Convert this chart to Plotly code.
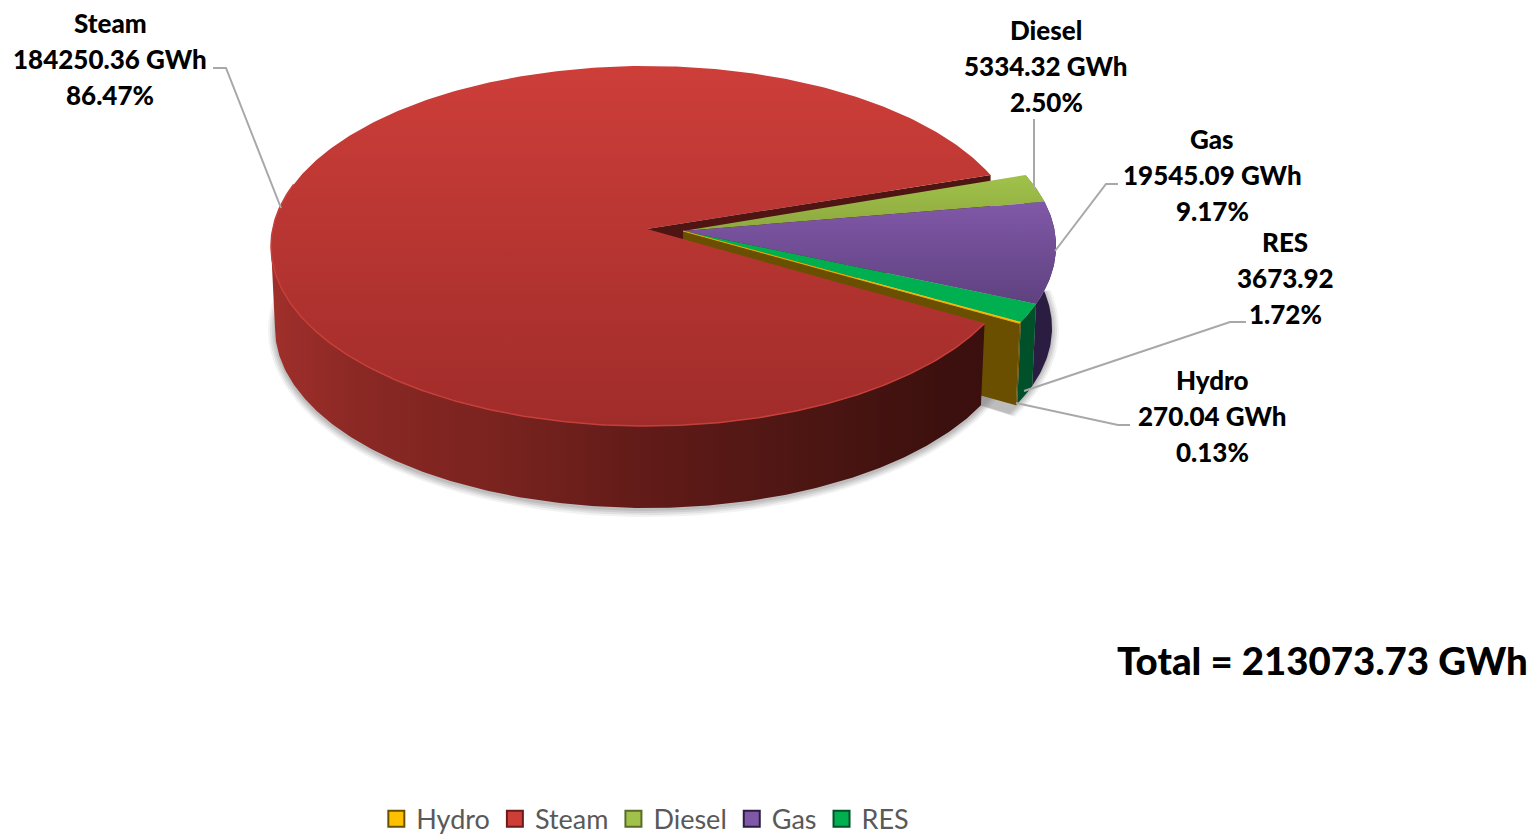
import math
import plotly.graph_objects as go

# ---- data ----
categories = ["Hydro", "Steam", "Diesel", "Gas", "RES"]
values_gwh = [270.04, 184250.36, 5334.32, 19545.09, 3673.92]
percent_labels = ["0.13%", "86.47%", "2.50%", "9.17%", "1.72%"]
value_units = [" GWh", " GWh", " GWh", " GWh", ""]
total_label = "Total = 213073.73 GWh"

# ---- styling / geometry ----
W, H = 1536, 838
RX, RX_BOTTOM, RY, CY, DEPTH = 375, 371, 180, 246, 82
CX_STEAM, CX_REST = 646, 681
APEX_STEAM, APEX_REST = (647, 229), (683, 231)
START_DEG = -25.0
FONT = "Lato"

top_colors = {
    "Hydro": ("#ffc000", "#ffc000"), "Steam": ("#cd3e39", "#a02c2a"),
    "Diesel": ("#a0c24a", "#8ea83f"), "Gas": ("#8058a8", "#5f417f"),
    "RES": ("#00b050", "#00b050"),
}
wall_colors = {"Hydro": "#6b4f00", "Diesel": "#5a6b28", "Gas": "#2b1d42", "RES": "#00502a"}
label_pos = {"Hydro": (1212, 380), "Steam": (110, 23), "Diesel": (1046, 30),
             "Gas": (1212, 139), "RES": (1285, 242)}
label_step = 36
leaders = {
    "Steam": ([213, 226, 281], [68, 68, 208]),
    "Diesel": ([1034, 1034], [119, 189]),
    "Gas": ([1118, 1106, 1055], [184, 184, 251]),
    "RES": ([1246, 1230, 1024], [322, 322, 391]),
    "Hydro": ([1130, 1118, 1016], [425, 425, 403]),
}


def rim(theta, cx, dz=0.0):
    t = math.radians(theta)
    rx = RX_BOTTOM if dz else RX
    return cx + rx * math.cos(t), CY - RY * math.sin(t) + dz


def arc(a, b, cx, dz=0.0, n=None):
    n = n or max(2, int(abs(b - a) * 1.5))
    return [rim(a + (b - a) * i / n, cx, dz) for i in range(n + 1)]


def poly(points, color=None, grad=None, opacity=1.0):
    xs = [p[0] for p in points] + [points[0][0]]
    ys = [p[1] for p in points] + [points[0][1]]
    kw = dict(x=xs, y=ys, mode="lines", line=dict(width=0), fill="toself", opacity=opacity,
              showlegend=False, hoverinfo="skip")
    if grad:
        kw["fillgradient"] = grad
        kw["fillcolor"] = "rgba(0,0,0,0)"
    else:
        kw["fillcolor"] = color
    return go.Scatter(**kw)


def vgrad(c0, c1, y0, y1):
    return dict(type="vertical", start=y0, stop=y1, colorscale=[[0, c0], [1, c1]])


# slice angles, clockwise from the first category
total = sum(values_gwh)
angles = {}
a = START_DEG
for name, v in zip(categories, values_gwh):
    b = a - 360 * v / total
    angles[name] = (a, b)
    a = b

fig = go.Figure()

# soft ground shadow
for grow, op in [(7, 0.10), (5, 0.14), (3, 0.18), (1, 0.22)]:
    ell = [(CX_STEAM + (RX_BOTTOM + grow) * math.cos(math.radians(t)),
            CY + DEPTH + 2 + (RY + grow) * math.sin(math.radians(t))) for t in range(0, 361, 2)]
    fig.add_trace(poly(ell, "#808080", opacity=op))
    sh = [(APEX_REST[0], APEX_REST[1] + DEPTH)] + [
        (CX_REST + (RX_BOTTOM + grow) * math.cos(math.radians(t)),
         CY + DEPTH + 1 - (RY + grow) * math.sin(math.radians(t))) for t in range(12, -30, -2)]
    fig.add_trace(poly(sh, "#808080", opacity=op))

# steam upper cut face, seen through the gap
s_start, s_end = angles["Steam"]
p = rim(s_end, CX_STEAM)
fig.add_trace(poly([APEX_STEAM, p, (p[0], p[1] + DEPTH), (APEX_STEAM[0], APEX_STEAM[1] + DEPTH)], "#4f1513"))

# outer walls of the small slices
for name in ["Diesel", "Gas", "RES", "Hydro"]:
    a0, a1 = angles[name]
    a0, a1 = min(a0, 0), min(a1, 0)
    if a0 == a1:
        continue
    fig.add_trace(poly(arc(a0, a1, CX_REST) + arc(a1, a0, CX_REST, DEPTH), wall_colors[name]))

# cut face of the hydro slice
p = rim(angles["Hydro"][1], CX_REST)
q = rim(angles["Hydro"][1], CX_REST, DEPTH)
fig.add_trace(poly([APEX_REST, p, q, (APEX_REST[0], APEX_REST[1] + DEPTH)], wall_colors["Hydro"]))

# top faces of the small slices
for name in ["Diesel", "Gas", "RES", "Hydro"]:
    a0, a1 = angles[name]
    pts = [APEX_REST] + arc(a0, a1, CX_REST, n=max(4, int(abs(a1 - a0) * 3)))
    ys = [q[1] for q in pts]
    fig.add_trace(poly(pts, grad=vgrad(*top_colors[name], min(ys), max(ys))))
pts = arc(*angles["Hydro"], CX_REST, n=2)
fig.add_trace(go.Scatter(x=[APEX_REST[0], pts[-1][0]], y=[APEX_REST[1], pts[-1][1]], mode="lines",
                         line=dict(color="#e8ad00", width=1), showlegend=False, hoverinfo="skip"))

# steam outer wall
wall = arc(s_start, -180, CX_STEAM) + arc(-180, s_start, CX_STEAM, DEPTH)
fig.add_trace(poly(wall, grad=dict(
    type="horizontal", start=CX_STEAM - RX, stop=CX_STEAM + RX,
    colorscale=[[0, "#a02f2b"], [0.12, "#8a2824"], [0.3, "#7a231f"], [0.5, "#611b18"],
                [0.7, "#4e1613"], [0.9, "#3c100e"], [1, "#3a0f0d"]])))

# steam top
top = [APEX_STEAM] + arc(s_start, s_end, CX_STEAM)
fig.add_trace(poly(top, grad=vgrad(*top_colors["Steam"], CY - RY, CY + RY)))
rim_line = arc(s_start, -200, CX_STEAM)
fig.add_trace(go.Scatter(x=[q[0] for q in rim_line], y=[q[1] for q in rim_line], mode="lines",
                         line=dict(color="#c63f3a", width=1.5), showlegend=False, hoverinfo="skip"))

# leader lines
for name in categories:
    xs, ys = leaders[name]
    fig.add_trace(go.Scatter(x=xs, y=ys, mode="lines", line=dict(color="#a8a8a8", width=2),
                             showlegend=False, hoverinfo="skip"))

# legend keys
for name in categories:
    fig.add_trace(go.Scatter(x=[None], y=[None], mode="markers", name=name,
                             marker=dict(symbol="square", size=16, color=top_colors[name][0],
                                         line=dict(width=2, color=wall_colors.get(name, "#6b1c1a"))),
                             hoverinfo="skip"))

# data labels
annotations = []
for name, v, pct, unit in zip(categories, values_gwh, percent_labels, value_units):
    x0, y0 = label_pos[name]
    for i, line in enumerate([name, f"{v:.2f}{unit}", pct]):
        annotations.append(dict(x=x0, y=y0 + i * label_step, text=line, showarrow=False,
                                xanchor="center", yanchor="middle",
                                font=dict(family=FONT, size=26, color="#000000", weight=900)))
annotations.append(dict(x=1530, y=660, text=total_label, showarrow=False, xanchor="right",
                        yanchor="middle", font=dict(family=FONT, size=38.4, color="#000000", weight=900)))

fig.update_layout(
    width=W, height=H, margin=dict(l=0, r=0, t=0, b=0, autoexpand=False),
    paper_bgcolor="white", plot_bgcolor="white",
    xaxis=dict(range=[0, W], visible=False, fixedrange=True),
    yaxis=dict(range=[H, 0], visible=False, fixedrange=True),
    annotations=annotations,
    legend=dict(orientation="h", x=0.2450, y=0.0225, xanchor="left", yanchor="middle", itemsizing="trace",
                font=dict(family=FONT, size=27, color="#595959"), bgcolor="rgba(0,0,0,0)"),
)
fig.write_html("out.html", config={"displayModeBar": False},
               post_script="document.body.style.margin='0';document.documentElement.style.overflow='hidden';")
